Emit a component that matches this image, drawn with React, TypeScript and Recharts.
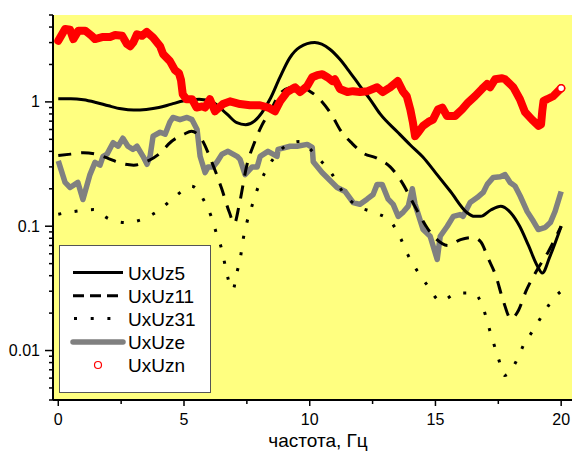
import React from 'react';
import { LineChart, Line, XAxis, YAxis, CartesianGrid, Legend } from 'recharts';

// UxUz5 (solid)
const uxuz5F = [0, 0.5, 1, 1.5, 2, 2.5, 3, 3.5, 4, 4.5, 5, 5.6, 6.15, 6.7, 7.1, 7.45, 7.8, 8.1, 8.45, 8.8, 9.2, 9.6, 10.2, 10.8, 11.2, 11.6, 12, 12.4, 12.8, 13.5, 14, 14.5, 15, 15.6, 16.25, 16.55, 16.8, 17.2, 17.6, 18, 18.35, 18.7, 19.05, 19.25, 19.55, 20];
const uxuz5V = [1.06, 1.06, 1.04, 0.99, 0.93, 0.88, 0.86, 0.87, 0.9, 0.96, 1.02, 1.05, 0.99, 0.8, 0.68, 0.655, 0.7, 0.82, 1.08, 1.55, 2.25, 2.75, 3.0, 2.65, 2.2, 1.73, 1.34, 1.05, 0.8, 0.57, 0.45, 0.36, 0.27, 0.19, 0.129, 0.12, 0.12, 0.135, 0.145, 0.128, 0.1, 0.07, 0.048, 0.042, 0.057, 0.1];

// UxUz11 (dashed)
const uxuz11F = [0, 0.5, 1, 1.5, 2, 2.5, 3, 3.5, 4, 4.5, 5, 5.3, 5.7, 6.1, 6.5, 6.8, 7.0, 7.2, 7.5, 7.8, 8.1, 8.4, 8.8, 9.2, 9.6, 10.0, 10.4, 10.9, 11.2, 11.7, 12.1, 12.7, 13.2, 13.7, 14.1, 14.4, 14.7, 15.0, 15.5, 16.0, 16.5, 16.8, 17.1, 17.4, 17.7, 18.0, 18.3, 18.6, 19.0, 19.5, 20];
const uxuz11V = [0.37, 0.38, 0.39, 0.38, 0.35, 0.32, 0.31, 0.33, 0.38, 0.48, 0.55, 0.58, 0.5, 0.33, 0.2, 0.13, 0.105, 0.15, 0.31, 0.47, 0.65, 0.82, 1.15, 1.3, 1.33, 1.22, 1.05, 0.77, 0.6, 0.46, 0.39, 0.35, 0.3, 0.22, 0.155, 0.12, 0.095, 0.08, 0.07, 0.078, 0.081, 0.075, 0.055, 0.04, 0.025, 0.018, 0.021, 0.03, 0.043, 0.063, 0.1];

// UxUz31 (dotted)
const uxuz31F = [0, 0.7, 1.4, 2.0, 2.7, 3.4, 4.0, 4.7, 5.3, 5.8, 6.1, 6.3, 6.5, 6.65, 6.8, 6.95, 7.1, 7.25, 7.35, 7.5, 7.7, 7.9, 8.2, 8.6, 9.1, 9.6, 10.3, 10.9, 11.3, 11.9, 12.5, 13.2, 13.6, 13.9, 14.3, 14.7, 15.2, 15.9, 16.5, 16.9, 17.1, 17.3, 17.5, 17.75, 18.2, 18.5, 18.9, 19.3, 19.75, 20];
const uxuz31V = [0.125, 0.132, 0.136, 0.115, 0.107, 0.115, 0.134, 0.177, 0.21, 0.16, 0.117, 0.086, 0.065, 0.047, 0.035, 0.031, 0.042, 0.057, 0.078, 0.107, 0.145, 0.194, 0.266, 0.36, 0.45, 0.48, 0.36, 0.26, 0.19, 0.145, 0.13, 0.11, 0.081, 0.059, 0.043, 0.033, 0.025, 0.029, 0.029, 0.022, 0.016, 0.0117, 0.0087, 0.0063, 0.0081, 0.011, 0.0147, 0.02, 0.027, 0.03];

// UxUze (thick grey)
const uxuzeF = [0, 0.27, 0.47, 0.78, 0.98, 1.26, 1.46, 1.66, 1.78, 1.94, 2.18, 2.38, 2.57, 2.77, 2.97, 3.13, 3.37, 3.53, 3.65, 3.77, 4.05, 4.25, 4.44, 4.56, 4.84, 5.12, 5.32, 5.52, 5.64, 5.84, 5.96, 6.16, 6.32, 6.51, 6.75, 7.11, 7.23, 7.43, 7.71, 7.91, 8.03, 8.34, 8.7, 8.74, 9.22, 9.5, 9.9, 10.1, 10.14, 10.49, 10.89, 11.09, 11.41, 11.73, 12.0, 12.28, 12.52, 12.68, 12.88, 13.12, 13.32, 13.52, 13.72, 13.92, 14.08, 14.19, 14.51, 14.79, 15.07, 15.19, 15.47, 15.71, 15.98, 16.1, 16.38, 16.66, 16.9, 17.06, 17.3, 17.58, 17.77, 17.97, 18.17, 18.37, 18.65, 18.89, 19.09, 19.37, 19.57, 19.76, 20];
const uxuzeV = [0.335, 0.225, 0.205, 0.225, 0.164, 0.26, 0.326, 0.31, 0.365, 0.38, 0.47, 0.44, 0.51, 0.44, 0.415, 0.44, 0.365, 0.315, 0.365, 0.53, 0.57, 0.55, 0.69, 0.75, 0.72, 0.75, 0.72, 0.6, 0.365, 0.27, 0.3, 0.3, 0.33, 0.38, 0.4, 0.365, 0.345, 0.26, 0.3, 0.3, 0.365, 0.4, 0.365, 0.415, 0.44, 0.44, 0.455, 0.43, 0.33, 0.27, 0.225, 0.205, 0.19, 0.155, 0.15, 0.165, 0.18, 0.217, 0.217, 0.165, 0.15, 0.12, 0.13, 0.145, 0.2, 0.15, 0.094, 0.083, 0.054, 0.083, 0.1, 0.12, 0.124, 0.12, 0.155, 0.17, 0.187, 0.217, 0.247, 0.25, 0.26, 0.225, 0.21, 0.175, 0.131, 0.11, 0.094, 0.098, 0.107, 0.132, 0.19];

// UxUzn (red circles)
const uxuznF = [0, 0.27, 0.47, 0.6, 0.8, 1.07, 1.33, 1.46, 1.78, 2.06, 2.26, 2.54, 2.73, 2.86, 2.98, 3.13, 3.33, 3.52, 3.77, 4.05, 4.17, 4.44, 4.64, 4.8, 4.88, 4.95, 5.1, 5.32, 5.5, 5.72, 5.84, 6.03, 6.23, 6.55, 6.83, 7.23, 7.62, 8.02, 8.35, 8.62, 8.82, 9.1, 9.42, 9.62, 9.9, 10.1, 10.3, 10.5, 10.7, 10.9, 11.0, 11.2, 11.5, 11.72, 12.0, 12.3, 12.68, 12.9, 13.2, 13.5, 13.7, 13.86, 14.0, 14.1, 14.19, 14.32, 14.5, 14.72, 14.9, 15.1, 15.27, 15.46, 15.78, 16.06, 16.3, 16.57, 16.85, 17.05, 17.17, 17.37, 17.65, 17.77, 18.1, 18.36, 18.56, 18.84, 19.1, 19.2, 19.25, 19.3, 19.44, 19.68, 20];
const uxuznV = [3.1, 3.86, 3.8, 3.2, 3.74, 3.74, 3.4, 3.2, 3.33, 3.33, 3.45, 3.4, 2.92, 2.8, 3.0, 3.5, 3.4, 3.65, 3.3, 2.8, 2.42, 2.13, 1.8, 1.7, 1.5, 1.15, 1.05, 1.05, 0.9, 0.92, 0.9, 1.05, 0.84, 0.96, 1.01, 0.96, 0.94, 0.94, 0.9, 0.84, 1.01, 1.2, 1.31, 1.2, 1.34, 1.58, 1.64, 1.67, 1.58, 1.47, 1.52, 1.27, 1.2, 1.22, 1.2, 1.22, 1.31, 1.2, 1.31, 1.47, 1.22, 1.11, 0.87, 0.69, 0.53, 0.57, 0.64, 0.69, 0.72, 0.87, 0.9, 0.77, 0.77, 0.87, 0.99, 1.11, 1.27, 1.39, 1.31, 1.52, 1.55, 1.52, 1.31, 1.05, 0.83, 0.72, 0.64, 0.66, 0.85, 1.02, 1.05, 1.11, 1.29];

const xTicks = [0, 2.5, 5, 7.5, 10, 12.5, 15, 17.5, 20];
const xMajor = [0, 5, 10, 15, 20];
const yTicks = [0.004, 0.005, 0.006, 0.007, 0.008, 0.009, 0.01, 0.02, 0.03, 0.04, 0.05, 0.06, 0.07, 0.08, 0.09, 0.1, 0.2, 0.3, 0.4, 0.5, 0.6, 0.7, 0.8, 0.9, 1, 2, 3, 4, 5];
const yMajor = [0.01, 0.1, 1];

const seriesNames = ['UxUz5', 'UxUz11', 'UxUz31', 'UxUze', 'UxUzn'];

const toPts = (f: number[], v: number[]) => f.map((x, i) => ({ f: x, v: v[i] }));
const d5 = toPts(uxuz5F, uxuz5V);
const d11 = toPts(uxuz11F, uxuz11V);
const d31 = toPts(uxuz31F, uxuz31V);
const de = toPts(uxuzeF, uxuzeV);
const dn = toPts(uxuznF, uxuznV);

const FONT = '"Liberation Sans", Arial, sans-serif';

const YTick = (props: any) => {
  const { x, y, payload } = props;
  const v = payload.value;
  const major = yMajor.some((m) => Math.abs(m - v) < 1e-9);
  return (
    <g>
      <line x1={x} x2={x - (major ? 8 : 4)} y1={y} y2={y} stroke="#000" strokeWidth={1.5} />
      {major && (
        <text x={x - 13} y={y + 5.5} textAnchor="end" fontSize={16} fontFamily={FONT} fill="#000">
          {String(v)}
        </text>
      )}
    </g>
  );
};

const XTick = (props: any) => {
  const { x, y, payload } = props;
  const v = payload.value;
  const major = xMajor.includes(v);
  return (
    <g>
      <line x1={x} x2={x} y1={y} y2={y + (major ? 6 : 4)} stroke="#000" strokeWidth={1.5} />
      {major && (
        <text x={x} y={y + 25} textAnchor="middle" fontSize={16} fontFamily={FONT} fill="#000">
          {String(v)}
        </text>
      )}
    </g>
  );
};

const TopTick = (props: any) => {
  const { x, y, payload } = props;
  const major = xMajor.includes(payload.value);
  return <line x1={x} x2={x} y1={y} y2={y - (major ? 3 : 2)} stroke="#000" strokeWidth={1.5} />;
};

const LegendBox = () => {
  const rows = [27.5, 50.7, 73.5, 97, 120];
  const x1 = 14;
  const x2 = 64;
  return (
    <svg width={152} height={148} style={{ display: 'block' }}>
      <rect x={0.5} y={0.5} width={151} height={147} fill="#fff" stroke="#555" strokeWidth={1} />
      <line x1={x1} x2={x2} y1={rows[0]} y2={rows[0]} stroke="#000" strokeWidth={3} />
      <line x1={x1} x2={x2} y1={rows[1]} y2={rows[1]} stroke="#000" strokeWidth={3} strokeDasharray="11 6" />
      <line x1={x1 + 1} x2={x2} y1={rows[2]} y2={rows[2]} stroke="#000" strokeWidth={3} strokeDasharray="3 13.7" />
      <line x1={x1} x2={x2} y1={rows[3]} y2={rows[3]} stroke="#808080" strokeWidth={5.5} strokeLinecap="round" />
      <circle cx={39} cy={rows[4]} r={3.5} fill="#fff" stroke="#ff0000" strokeWidth={1.2} />
      {seriesNames.map((n, i) => (
        <text key={n} x={69} y={rows[i] + 7} fontSize={19} fontFamily={FONT} fill="#000">
          {n}
        </text>
      ))}
    </svg>
  );
};

const LastDot = (props: any) => {
  const { cx, cy, index } = props;
  if (index !== dn.length - 1) return <g key={`d${index}`} />;
  return <circle key={`d${index}`} cx={cx} cy={cy} r={3.5} fill="#fff" stroke="#ff0000" strokeWidth={1.5} />;
};

export default function App() {
  return (
    <div style={{ position: 'absolute', left: 0, top: 0, width: 572, height: 453, overflow: 'hidden', background: '#fff' }}>
      <LineChart width={575} height={453} margin={{ top: 15, right: 0, left: 0, bottom: 0 }}>
        <CartesianGrid horizontal={false} vertical={false} fill="#FFFF80" fillOpacity={1} />
        <XAxis
          dataKey="f"
          type="number"
          domain={[-0.21, 20.55]}
          allowDataOverflow
          ticks={xTicks}
          interval={0}
          tickSize={0}
          tickMargin={0}
          height={53}
          axisLine={{ stroke: '#000', strokeWidth: 2 }}
          tickLine={false}
          tick={<XTick />}
          label={{
            content: () => (
              <text x={318} y={447} textAnchor="middle" fontSize={19} fontFamily={FONT} fill="#000">
                частота, Гц
              </text>
            ),
          }}
        />
        <XAxis
          xAxisId="top"
          orientation="top"
          dataKey="f"
          type="number"
          domain={[-0.21, 20.55]}
          allowDataOverflow
          ticks={xTicks}
          interval={0}
          tickSize={0}
          tickMargin={0}
          height={0}
          axisLine={{ stroke: '#000', strokeWidth: 2 }}
          tickLine={false}
          tick={<TopTick />}
        />
        <YAxis
          dataKey="v"
          scale="log"
          type="number"
          domain={[0.004, 5]}
          allowDataOverflow
          ticks={yTicks}
          interval={0}
          tickSize={0}
          tickMargin={0}
          width={53}
          axisLine={{ stroke: '#000', strokeWidth: 2 }}
          tickLine={false}
          tick={<YTick />}
        />
        <Line data={de} dataKey="v" name="UxUze" type="linear" stroke="#808080" strokeWidth={5.5} strokeLinejoin="round" dot={false} activeDot={false} isAnimationActive={false} />
        <Line data={d5} dataKey="v" name="UxUz5" type="monotone" stroke="#000" strokeWidth={3} dot={false} activeDot={false} isAnimationActive={false} />
        <Line data={d11} dataKey="v" name="UxUz11" type="monotone" stroke="#000" strokeWidth={3} strokeDasharray="13 10" dot={false} activeDot={false} isAnimationActive={false} />
        <Line data={d31} dataKey="v" name="UxUz31" type="monotone" stroke="#000" strokeWidth={3} strokeDasharray="3 13.5" dot={false} activeDot={false} isAnimationActive={false} />
        <Line data={dn} dataKey="v" name="UxUzn" type="linear" stroke="#ff0000" strokeWidth={8} strokeLinejoin="round" strokeLinecap="round" dot={<LastDot />} activeDot={false} isAnimationActive={false} />
        <Legend
          layout="horizontal"
          verticalAlign="middle"
          align="center"
          content={() => <LegendBox />}
          wrapperStyle={{ position: 'absolute', left: 59, top: 245, width: 152, height: 148 }}
        />
      </LineChart>
    </div>
  );
}
